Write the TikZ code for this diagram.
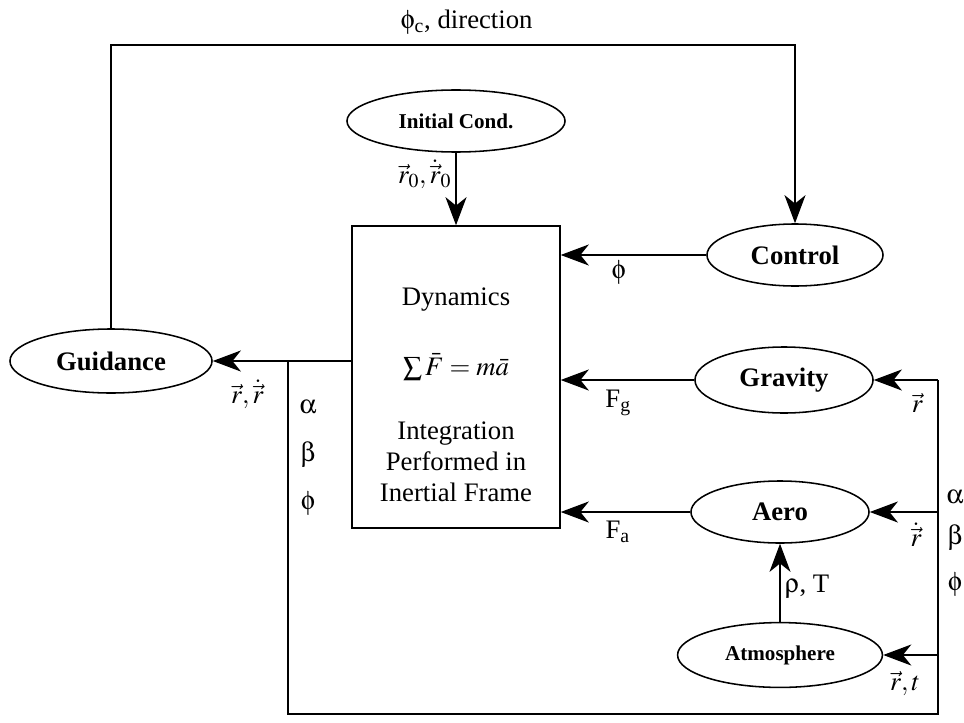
\documentclass[tikz,border=0pt]{standalone}
\usepackage{mathptmx}
\usepackage[Symbol]{upgreek}
\usepackage{fontspec}
\setmainfont{Liberation Serif}
\usetikzlibrary{arrows.meta,positioning,shapes.geometric}

\begin{document}
\begin{tikzpicture}[x=0.025cm,y=-0.025cm,
  unit/.style={ellipse,draw,line width=1.1pt,inner sep=0pt,
    font=\fontsize{19}{22}\selectfont\bfseries},
  small unit/.style={unit,font=\fontsize{15}{18}\selectfont\bfseries},
  lbl/.style={font=\fontsize{19}{22}\selectfont,inner sep=1pt},
  wire/.style={line width=0.9pt},
  flow/.style={wire,-{Stealth[length=20pt,width=15pt,inset=6pt]}}]
  \useasboundingbox (0,0) rectangle (964,722);

  % blocks
  \node[small unit,minimum width=5.45cm,minimum height=1.55cm] (init) at (456,121) {Initial Cond.};
  \node[draw,line width=1pt,minimum width=5.2cm,minimum height=7.55cm] (dyn) at (456,377) {};
  \node[lbl] (dynhead) at (456,300) {Dynamics};
  \node[lbl] (dynlaw)  at (456,367) {$\sum\bar{F}=m\bar{a}$};
  \node[lbl,align=center] (dynnote) at (456,462) {Integration\\Performed in\\Inertial Frame};
  \node[unit,minimum width=5.05cm,minimum height=1.6cm]  (guid) at (111,361) {Guidance};
  \node[unit,minimum width=4.4cm,minimum height=1.55cm]  (ctrl) at (795,255) {Control};
  \node[unit,minimum width=4.45cm,minimum height=1.65cm] (grav) at (784,380) {Gravity};
  \node[unit,minimum width=4.45cm,minimum height=1.55cm] (aero) at (780,512) {Aero};
  \node[small unit,minimum width=5.12cm,minimum height=1.62cm] (atmo) at (780,655) {Atmosphere};

  % corners of the feedback wires
  \coordinate (tl) at (111,45);
  \coordinate (jl) at (288,361);
  \coordinate (br) at (938,714);

  % guidance loop
  \draw[flow] (guid) -- (tl) -| (ctrl)
    node[lbl,above=6pt,pos=0.26] {$\upphi$\textsubscript{c}, direction};
  \draw[flow] (dyn.west |- guid) -- (guid)
    node[lbl,below=12pt,pos=0.75] {$\vec{r},\dot{\vec{r}}$};

  % inputs to the dynamics
  \draw[flow] (init) -- (init |- dyn.north)
    node[lbl,left=2pt,pos=0.3] {$\vec{r}_0,\dot{\vec{r}}_0$};
  \draw[flow] (ctrl) -- (ctrl -| dyn.east) node[lbl,below=2pt,pos=0.6] {$\upphi$};
  \draw[flow] (grav) -- (grav -| dyn.east) node[lbl,below=6pt,pos=0.57] {F\textsubscript{g}};
  \draw[flow] (aero) -- (aero -| dyn.east) node[lbl,below=5pt,pos=0.56] {F\textsubscript{a}};
  \draw[flow] (atmo) -- (aero) node[lbl,right=2pt,pos=0.45] {$\uprho$, T};

  % state fed back to the models
  \draw[wire] (jl) |- (br) -- (br |- grav);
  \draw[flow] (br |- grav) -- (grav) node[lbl,below=8pt,pos=0.32] {$\vec{r}$};
  \draw[flow] (br |- aero) -- (aero) node[lbl,below=6pt,pos=0.32] {$\dot{\vec{r}}$};
  \draw[flow] (br |- atmo) -- (atmo) node[lbl,below=10pt,pos=0.6] {$\vec{r},t$};

  \node[lbl] (la) at (308,407) {$\upalpha$};
  \node[lbl] (lb) at (308,455) {$\upbeta$};
  \node[lbl] (lp) at (308,503) {$\upphi$};
  \node[lbl] (ra) at (955,497) {$\upalpha$};
  \node[lbl] (rb) at (955,538) {$\upbeta$};
  \node[lbl] (rp) at (955,584) {$\upphi$};
\end{tikzpicture}
\end{document}
